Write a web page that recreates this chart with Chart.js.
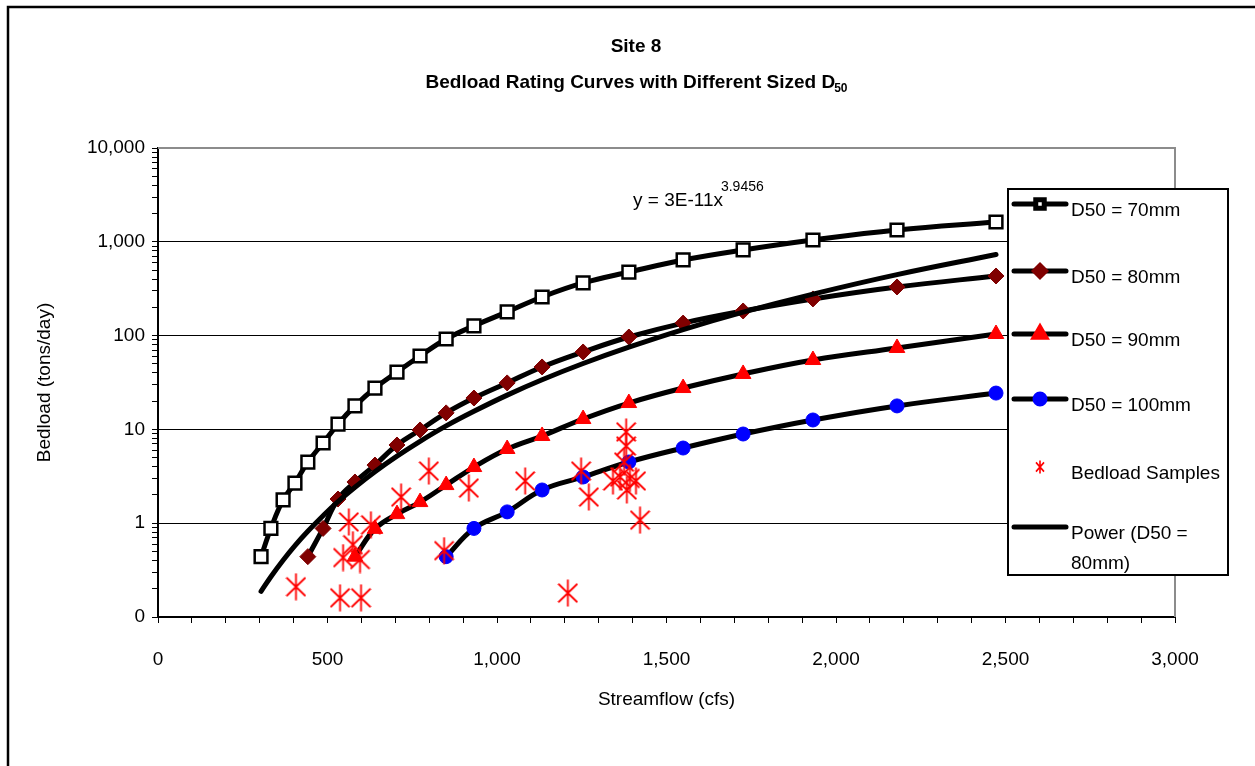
<!DOCTYPE html>
<html>
<head>
<meta charset="utf-8">
<title>Site 8 - Bedload Rating Curves</title>
<script src="https://cdn.jsdelivr.net/npm/chart.js@4.4.1/dist/chart.umd.min.js"></script>
<style>
  html, body { margin: 0; padding: 0; background: #fff; }
  canvas { display: block; }
</style>
</head>
<body>
<canvas id="chart" width="1255" height="766"></canvas>
<script>
const FONT = '"Liberation Sans", Arial, sans-serif';

// streamflow (cfs) at which the rating curves are evaluated
const flow = [304, 333, 369, 404, 442, 487, 531, 581, 640, 705, 773, 850, 932, 1030, 1133, 1254, 1389, 1549, 1726, 1932, 2180, 2472];

// bedload (tons/day) per D50 size, null where a curve has no value
const d70 = [0.44, 0.88, 1.77, 2.68, 4.49, 7.16, 11.4, 17.8, 27.6, 40.9, 60.6, 92, 127, 179, 258, 364, 476, 640, 818, 1045, 1336, 1626];
const d80 = [null, null, null, null, 0.44, 0.88, 1.81, 2.75, 4.17, 6.82, 9.86, 15.0, 21.6, 31.3, 46.3, 66.9, 96.6, 136, 183, 246, 330, 432];
const d90 = [null, null, null, null, null, null, null, 0.44, 0.87, 1.25, 1.68, 2.55, 3.97, 6.18, 8.51, 12.9, 19.1, 27.6, 39.0, 54.9, 73.8, 104];
const d100 = [null, null, null, null, null, null, null, null, null, null, null, 0.44, 0.88, 1.32, 2.26, 3.11, 4.49, 6.33, 8.93, 12.6, 17.8, 24.4];

// power trendline through the D50 = 80mm curve
const power80 = [0.188, 0.269, 0.403, 0.577, 0.82, 1.20, 1.70, 2.42, 3.54, 5.18, 7.47, 10.9, 15.6, 23.2, 33.8, 50.4, 75.3, 116, 178, 277, 447, 732];

// measured bedload samples
const sampleFlow = [407, 537, 599, 563, 628, 575, 546, 596, 717, 799, 917, 844, 1083, 1209, 1248, 1271, 1342, 1381, 1381, 1375, 1363, 1392, 1410, 1383, 1422];
const sampleLoad = [0.21, 0.16, 0.16, 1.03, 0.96, 0.59, 0.43, 0.41, 1.90, 3.60, 2.37, 0.51, 2.82, 0.18, 3.60, 1.90, 2.82, 9.4, 6.65, 4.49, 3.11, 3.0, 2.82, 2.26, 1.08];

// axis ticks
const yMajor = [0.1, 1, 10, 100, 1000, 10000];
const yLabels = ['0', '1', '10', '100', '1,000', '10,000'];
const xMajor = [0, 500, 1000, 1500, 2000, 2500, 3000];
const xLabels = ['0', '500', '1,000', '1,500', '2,000', '2,500', '3,000'];

function pts(ys) {
  return flow.map((x, i) => ({ x: x, y: ys[i] })).filter(p => p.y != null);
}

// red asterisk marker (vertical bar plus an X)
function asterisk(w, h, lw) {
  const c = document.createElement('canvas');
  c.width = w; c.height = h;
  const g = c.getContext('2d');
  g.strokeStyle = '#ff0000';
  g.lineWidth = lw;
  g.beginPath();
  g.moveTo(w / 2, 0.5); g.lineTo(w / 2, h - 0.5);
  g.moveTo(1, h * 0.17); g.lineTo(w - 1, h * 0.83);
  g.moveTo(w - 1, h * 0.17); g.lineTo(1, h * 0.83);
  g.stroke();
  return c;
}
const starBig = asterisk(21, 28, 1.8);
const starSmall = asterisk(10, 14, 1.6);

// minor tick positions: 2..9 inside each decade, every 100 cfs on x
const yTicks = [];
yMajor.forEach((d, i) => {
  if (i === yMajor.length - 1) { yTicks.push(d); return; }
  for (let m = 1; m < 10; m++) yTicks.push(Number((m * d).toPrecision(3)));
});
const xTicks = [];
for (let v = 0; v <= 3000; v += 100) xTicks.push(v);

function majorIndex(v) {
  return yMajor.findIndex(d => Math.abs(Math.log10(v) - Math.log10(d)) < 1e-6);
}

const lineBase = {
  showLine: true,
  borderColor: '#000',
  borderWidth: 5,
  borderCapStyle: 'round',
  borderJoinStyle: 'round',
  tension: 0.4,
  fill: false
};

const datasets = [
  Object.assign({}, lineBase, {
    label: 'D50 = 70mm', data: pts(d70), order: 3,
    pointStyle: 'rect', pointRadius: 9, pointBackgroundColor: '#fff',
    pointBorderColor: '#000', pointBorderWidth: 2.5,
    legendRadius: 6
  }),
  Object.assign({}, lineBase, {
    label: 'D50 = 80mm', data: pts(d80), order: 3,
    pointStyle: 'rectRot', pointRadius: 8, pointBackgroundColor: '#800000',
    pointBorderColor: '#800000', pointBorderWidth: 1,
    legendRadius: 5.5
  }),
  Object.assign({}, lineBase, {
    label: 'D50 = 90mm', data: pts(d90), order: 3,
    pointStyle: 'triangle', pointRadius: 9, pointBackgroundColor: '#ff0000',
    pointBorderColor: '#ff0000', pointBorderWidth: 1,
    legendRadius: 6.5
  }),
  Object.assign({}, lineBase, {
    label: 'D50 = 100mm', data: pts(d100), order: 3,
    pointStyle: 'circle', pointRadius: 7, pointBackgroundColor: '#0000ff',
    pointBorderColor: '#0000ff', pointBorderWidth: 1,
    legendRadius: 5
  }),
  {
    label: 'Bedload Samples',
    data: sampleFlow.map((x, i) => ({ x: x, y: sampleLoad[i] })),
    order: 0, showLine: false,
    pointStyle: starBig, pointRadius: 10,
    legendImage: starSmall
  },
  Object.assign({}, lineBase, {
    label: 'Power (D50 = 80mm)', data: pts(power80), order: 1,
    pointRadius: 0, pointHoverRadius: 0,
    legendRadius: 0
  })
];

// legend rows: y of the sample line for each dataset
const legendRowY = [204, 271, 334, 399, 467, 527];

function wrapText(ctx, text, maxW) {
  const words = text.split(' ');
  const lines = [];
  let cur = '';
  words.forEach(w => {
    const t = cur ? cur + ' ' + w : w;
    if (ctx.measureText(t).width > maxW && cur) { lines.push(cur); cur = w; }
    else cur = t;
  });
  lines.push(cur);
  return lines;
}

const decorations = {
  id: 'decorations',
  beforeDraw(chart) {
    const c = chart.ctx;
    c.save();
    c.fillStyle = '#fff';
    c.fillRect(0, 0, chart.width, chart.height);
    c.strokeStyle = '#000';
    c.lineWidth = 2.5;
    c.strokeRect(8, 7, chart.width + 20, chart.height + 20);
    c.restore();
  },
  afterDraw(chart) {
    const c = chart.ctx;
    const a = chart.chartArea;
    c.save();

    // gray plot frame on top and right
    c.strokeStyle = '#8c8c8c';
    c.lineWidth = 2;
    c.beginPath();
    c.moveTo(a.left, a.top); c.lineTo(a.right, a.top); c.lineTo(a.right, a.bottom);
    c.stroke();

    // title
    c.fillStyle = '#000';
    c.textAlign = 'center';
    c.textBaseline = 'alphabetic';
    c.font = 'bold 19px ' + FONT;
    c.fillText('Site 8', 636, 52);
    const t1 = 'Bedload Rating Curves with Different Sized D';
    c.font = 'bold 19px ' + FONT;
    const w1 = c.measureText(t1).width;
    c.font = 'bold 12px ' + FONT;
    const w2 = c.measureText('50').width;
    const x0 = 637 - (w1 + w2) / 2;
    c.textAlign = 'left';
    c.font = 'bold 19px ' + FONT;
    c.fillText(t1, x0, 88);
    c.font = 'bold 12px ' + FONT;
    c.fillText('50', x0 + w1 - 1, 92);

    // trendline equation
    c.font = '19px ' + FONT;
    const eq = 'y = 3E-11x';
    c.fillText(eq, 633, 206);
    const we = c.measureText(eq).width;
    c.font = '14px ' + FONT;
    c.fillText('3.9456', 633 + we - 2, 191);

    // legend box
    const lx = 1008, ly = 189, lw = 220, lh = 386;
    c.fillStyle = '#fff';
    c.fillRect(lx, ly, lw, lh);
    c.strokeStyle = '#000';
    c.lineWidth = 2;
    c.strokeRect(lx, ly, lw, lh);

    chart.data.datasets.forEach((ds, i) => {
      const y = legendRowY[i];
      if (ds.showLine) {
        c.strokeStyle = '#000';
        c.lineWidth = 5;
        c.lineCap = 'round';
        c.beginPath();
        c.moveTo(1014, y); c.lineTo(1066, y);
        c.stroke();
      }
      if (ds.legendImage) {
        c.drawImage(ds.legendImage, 1040 - ds.legendImage.width / 2, y - ds.legendImage.height / 2);
      } else if (ds.legendRadius) {
        c.fillStyle = ds.pointBackgroundColor;
        c.strokeStyle = ds.pointBorderColor;
        Chart.helpers.drawPoint(c, {
          pointStyle: ds.pointStyle, radius: ds.legendRadius, rotation: 0,
          borderWidth: ds.pointBorderWidth
        }, 1040, y);
      }
      c.fillStyle = '#000';
      c.font = '19px ' + FONT;
      c.textAlign = 'left';
      c.textBaseline = 'middle';
      const lines = wrapText(c, ds.label, 150);
      lines.forEach((ln, k) => c.fillText(ln, 1071, y + 7 + k * 30));
    });

    c.restore();
  }
};

new Chart(document.getElementById('chart'), {
  type: 'scatter',
  data: { datasets: datasets },
  options: {
    responsive: false,
    animation: false,
    layout: { padding: { left: 0, top: 148, right: 80, bottom: 0 } },
    plugins: {
      legend: { display: false },
      title: { display: false },
      tooltip: { enabled: false }
    },
    scales: {
      x: {
        type: 'linear',
        min: 0, max: 3000,
        afterBuildTicks: s => { s.ticks = xTicks.map(v => ({ value: v })); },
        afterFit: s => { s.height = 149; },
        ticks: {
          autoSkip: false, maxRotation: 0, padding: 25, color: '#000',
          font: { family: FONT, size: 19 },
          callback: v => { const k = xMajor.indexOf(v); return k >= 0 ? xLabels[k] : ''; }
        },
        grid: { drawOnChartArea: false, tickLength: 6, tickColor: '#000', tickWidth: 1 },
        border: { color: '#000', width: 2 },
        title: {
          display: true, text: 'Streamflow (cfs)', color: '#000',
          font: { family: FONT, size: 19 }, padding: { bottom: 55, top: 0 }
        }
      },
      y: {
        type: 'logarithmic',
        min: 0.1, max: 10000,
        afterBuildTicks: s => { s.ticks = yTicks.map(v => ({ value: v })); },
        afterFit: s => { s.width = 158; },
        ticks: {
          autoSkip: false, padding: 7, color: '#000',
          font: { family: FONT, size: 19 },
          callback: v => { const k = majorIndex(v); return k >= 0 ? yLabels[k] : ''; }
        },
        grid: {
          color: ctx => {
            const k = majorIndex(ctx.tick.value);
            return (k > 0 && k < yMajor.length - 1) ? '#000' : 'rgba(0,0,0,0)';
          },
          lineWidth: 1,
          tickColor: '#000',
          tickLength: 6
        },
        border: { color: '#000', width: 2 },
        title: {
          display: true, text: 'Bedload (tons/day)', color: '#000',
          font: { family: FONT, size: 19 }, padding: { top: 33, bottom: 0 }
        }
      }
    }
  },
  plugins: [decorations]
});
</script>
</body>
</html>
